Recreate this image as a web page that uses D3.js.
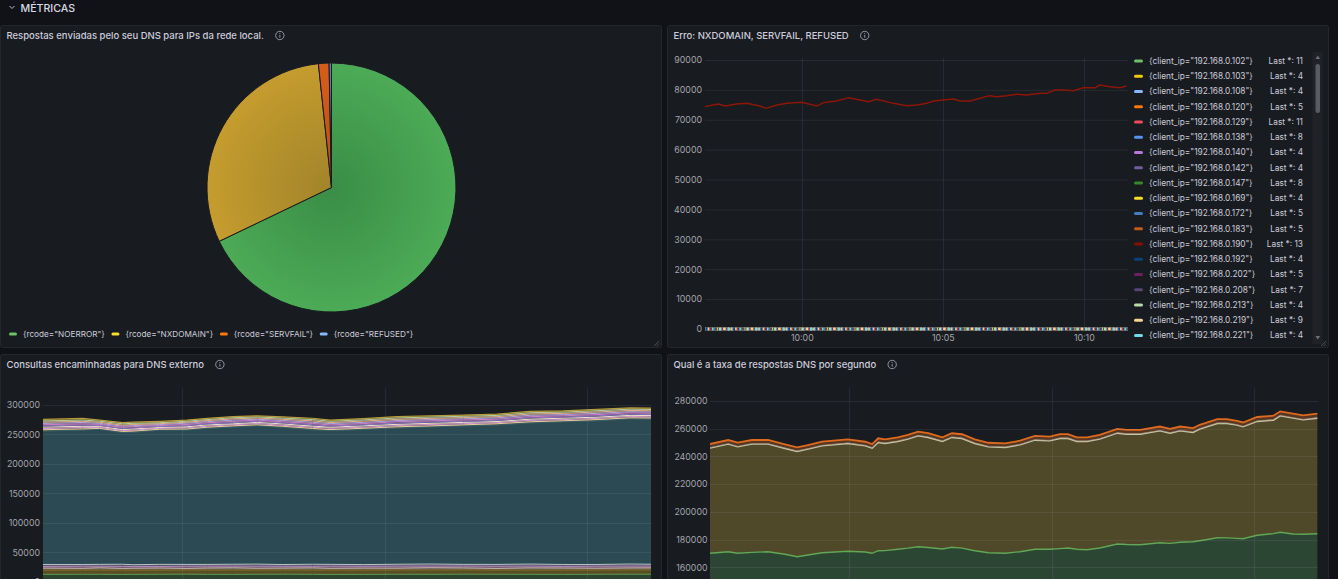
<!DOCTYPE html>
<html><head><meta charset="utf-8">
<script src="https://cdn.jsdelivr.net/npm/d3@7"></script>
<style>
html,body{margin:0;padding:0;background:#111217;overflow:hidden}
svg{display:block;font-family:Inter,"Noto Sans",sans-serif}
</style></head><body>
<svg id="c" width="1338" height="579"></svg>
<script>
// ---------------- DATA ----------------
const sectionTitle = "MÉTRICAS";
const panelTitles = [
  "Respostas enviadas pelo seu DNS para IPs da rede local.",
  "Erro: NXDOMAIN, SERVFAIL, REFUSED",
  "Consultas encaminhadas para DNS externo",
  "Qual é a taxa de respostas DNS por segundo"
];
const startTime = "09:56:34";
const rangeSeconds = 900;

// Pie
const pieLabels = ['{rcode="NOERROR"}','{rcode="NXDOMAIN"}','{rcode="SERVFAIL"}','{rcode="REFUSED"}'];
const pieValues = [67.89, 30.43, 1.37, 0.31];
const pieColors = ['#73BF69','#FADE2A','#FF780A','#8AB8FF'];

// Error panel
const errIPs = ["192.168.0.102","192.168.0.103","192.168.0.108","192.168.0.120","192.168.0.129","192.168.0.138","192.168.0.140","192.168.0.142","192.168.0.147","192.168.0.169","192.168.0.172","192.168.0.183","192.168.0.190","192.168.0.192","192.168.0.202","192.168.0.208","192.168.0.213","192.168.0.219","192.168.0.221"];
const errColors = ['#73BF69','#F2CC0C','#8AB8FF','#FF780A','#F2495C','#5794F2','#B877D9','#705DA0','#37872D','#FADE2A','#447EBC','#C15C17','#890F02','#0A437C','#6D1F62','#584477','#B7DBAB','#F4D598','#70DBED'];
const errLast = [11,4,4,5,11,8,4,4,8,4,5,5,13,4,5,7,4,9,4];
const errYTicks = [0,10000,20000,30000,40000,50000,60000,70000,80000,90000];
// big series (192.168.0.190)
const errBigTimes = [0,28,43,67,89,117,130,153,174,206,238,252,280,305,330,348,365,401,429,451,472,486,507,529,543,564,585,606,620,642,663,684,713,727,745,763,784,805,830,840,862,883,897];
const errBigValues = [74380,75280,74610,75280,75510,74610,73840,74950,75510,75850,74610,75730,76280,77390,76620,76050,76850,75510,74710,74950,75510,76280,76620,76950,76280,76280,77190,78060,77720,78060,78530,78290,78860,78860,79960,79960,79730,80740,80740,81640,81070,80740,81300];
// small series (all other IPs)
const errSmallTimes = [0,100,200,300,400,500,600,700,800,900];
const errSmallValues = [
  [9,12,10,11,13,10,12,11,10,11],
  [3,5,4,4,6,3,5,4,3,4],
  [5,4,3,5,4,6,4,3,5,4],
  [4,6,5,4,5,6,4,5,6,5],
  [10,12,11,9,12,13,10,11,12,11],
  [7,9,8,6,8,9,7,8,9,8],
  [3,4,5,4,3,5,4,4,3,4],
  [5,3,4,4,5,3,4,5,4,4],
  [7,8,9,7,8,6,9,8,7,8],
  [4,3,5,4,4,5,3,4,5,4],
  [6,5,4,5,6,4,5,5,6,5],
  [5,6,4,5,5,6,4,5,4,5],
  null,
  [3,4,5,4,3,4,5,4,3,4],
  [4,5,6,5,4,5,6,5,4,5],
  [6,7,8,7,6,8,7,6,8,7],
  [5,4,3,4,5,4,3,4,5,4],
  [8,9,10,9,8,10,9,8,10,9],
  [4,5,3,4,4,5,3,4,5,4]
];

// Forwarded queries panel (stacked)
const fwdTimes = [0,59,84,118,133,173,213,243,281,317,355,399,425,474,524,573,622,672,721,770,820,869,900];
const fwdYTicks = [0,50000,100000,150000,200000,250000,300000];
const fwdBase1 = [12600,12800,12700,12500,12600,12800,12900,12700,12600,12800,12900,12700,12500,12600,12800,12700,12900,12800,12700,12600,12800,12900,12800];
const fwdBase2 = [7300,7200,7400,7500,7300,7100,7200,7400,7500,7300,7200,7400,7600,7400,7300,7500,7400,7200,7400,7500,7300,7400,7500];
const fwdLow1 = [3400,3000,3600,2900,3200,3500,2800,3300,3600,3000,3200,3500,2900,3300,3100,3600,3200,2900,3500,3300,3000,3200,3300];
const fwdLow2 = [2900,3500,2800,3400,3100,2800,3500,3200,2900,3400,3100,2800,3500,3100,3400,2900,3200,3500,3100,2800,3400,3200,3100];
const fwdLow3 = [3200,2900,3100,3500,2800,3400,3100,2900,3200,3500,2900,3400,3100,2800,3200,3500,2900,3100,3400,3200,2900,3500,3100];
const fwdMain = [226250,227950,229080,223400,224550,227950,227950,230830,232520,234730,232520,227950,226800,229080,230830,232520,234730,236420,239300,242000,243700,246100,246100];
const fwdHigh = [
  [2400,2100,1600,1900,2200,1300,1800,2000,2300,1700,2100,2500,1900,2200,2400,1800,2000,2300,2100,1900,2200,2000,2100],
  [1800,2500,1400,1700,1500,1600,2100,1700,1800,2200,1600,2100,2300,1700,2000,2400,1900,1800,2400,2000,1900,2300,1800],
  [2600,1900,2000,1500,2100,1400,1700,2200,1600,1900,2300,1800,1700,2400,2100,2000,2200,1900,2000,2300,2100,1800,2200],
  [1900,2300,1500,2200,1700,1800,2000,1600,2100,1700,1900,2400,2000,1800,2200,2300,1800,2100,2200,1900,2400,2100,2000],
  [2200,1800,1900,1600,2300,1500,1900,2100,2000,2000,1800,2200,1900,2100,2300,1900,2300,2000,2100,2200,2000,2300,1900],
  [2100,2400,1700,2000,1600,1700,2200,1800,2200,1600,2200,2000,2200,2000,1900,2200,2000,2200,2300,2000,2100,1900,2200],
  [2300,1900,1800,1700,2000,1500,1600,1900,2100,2100,2000,2300,1800,2200,2100,2000,2100,2000,2200,2100,2300,2000,2100],
  [2000,2200,1900,2300,1900,1600,1800,1700,2000,1800,2100,2200,2300,2000,2400,2200,2200,2100,2200,2200,2200,2200,2200],
  [2500,2700,2000,2100,2100,2300,1900,2000,1700,1900,2000,2300,2000,2300,2300,2200,2100,2300,2200,2100,2200,2100,2200]
];

// Response rate panel (stacked)
const rateTimes = [0,27,41,62,86,111,129,145,166,204,230,240,249,259,278,293,308,323,344,358,373,392,412,437,459,481,503,518,530,543,558,577,603,617,637,666,681,696,715,725,751,765,780,789,810,834,844,863,878,899];
const rateYTicks = [160000,180000,200000,220000,240000,260000,280000];
const rateNoerror = [170100,171260,170100,170800,171260,169400,167650,168870,170530,171540,171000,170100,171980,172000,172990,173800,174860,174300,173200,174430,173800,171980,170530,170100,171260,173000,172990,173500,173930,173000,172700,173930,176810,176500,176310,177750,177300,178040,178400,179190,181350,181200,180900,180630,183090,184300,185250,184020,183800,184240];
const rateNxdomain = [75860,77590,76800,78050,77590,76340,75930,76370,77090,77810,76620,75860,78090,77350,77800,78650,79970,79380,77590,79250,79160,77370,76370,76360,77080,78730,78260,79460,79030,77790,78090,78520,79970,79560,79750,80690,79480,80400,78890,80480,82430,82580,81650,80700,82140,81850,84010,83580,82580,83360];
const rateRefused = [400,420,390,410,400,380,400,410,420,400,390,400,410,420,400,410,430,420,400,410,420,400,390,400,410,420,410,420,430,410,400,410,430,420,420,430,420,430,420,430,440,440,430,430,440,440,450,440,440,440];
const rateServfail = [2600,2580,2620,2590,2610,2570,2550,2580,2600,2620,2590,2570,2630,2610,2640,2660,2690,2670,2620,2650,2640,2610,2580,2570,2600,2640,2630,2650,2660,2620,2630,2650,2700,2690,2690,2720,2700,2720,2710,2730,2770,2770,2750,2740,2780,2790,2820,2800,2790,2800];

// ---------------- RENDER ----------------
const svg = d3.select('#c');
const T0 = d3.timeParse('%Y-%m-%d %H:%M:%S')('2024-01-01 ' + startTime);
const toDate = s => new Date(T0.getTime() + s * 1000);
const TEND = toDate(rangeSeconds);
const TXT = '#ccccdc', AX = '#a4a5ad', GRID = 'rgba(204,204,220,0.09)';

// section header
svg.append('path').attr('d','M9.5,6 L12,8.5 L14.5,6').attr('fill','none').attr('stroke','#b8b9c2').attr('stroke-width',1);
svg.append('text').attr('x',20.5).attr('y',11.5).attr('fill','#d8d9e3').attr('font-size',10.6).attr('font-weight',500).text(sectionTitle);

function panel(x,y,w,h,title){
  svg.append('rect').attr('x',x+0.5).attr('y',y+0.5).attr('width',w).attr('height',h).attr('rx',2)
    .attr('fill','#181b1f').attr('stroke','#25272c');
  const t = svg.append('text').attr('x',x+6.5).attr('y',y+14).attr('fill',TXT)
    .attr('font-size',9.5).attr('font-weight',500).text(title);
  const cx = x + 6.5 + t.node().getComputedTextLength() + 16, cy = y + 10.5;
  const g = svg.append('g').attr('transform',`translate(${cx},${cy})`);
  g.append('circle').attr('r',4.2).attr('fill','none').attr('stroke','#a0a1aa').attr('stroke-width',0.9);
  g.append('line').attr('x1',0).attr('x2',0).attr('y1',-0.6).attr('y2',2.2).attr('stroke','#a0a1aa').attr('stroke-width',0.9);
  g.append('circle').attr('cx',0).attr('cy',-2).attr('r',0.55).attr('fill','#a0a1aa');
}
function resizeHandle(x,y){
  svg.append('path').attr('d',`M${x-5},${y} L${x},${y-5} M${x-2.5},${y} L${x},${y-2.5}`)
    .attr('stroke','#55575e').attr('stroke-width',0.8);
}
panel(0,25,661,322,panelTitles[0]);
panel(667,25,661,322,panelTitles[1]);
panel(0,354,661,240,panelTitles[2]);
panel(667,354,661,240,panelTitles[3]);
resizeHandle(659,346); resizeHandle(1326,346);

// ---- Pie ----
const defs = svg.append('defs');
const pieGrad = [['#3a8d47','#4cab56'],['#a1842a','#c59c2e'],['#b8501a','#d95c1b'],['#3f5f8c','#5d83b6']];
pieGrad.forEach((g,i)=>{
  const rg = defs.append('radialGradient').attr('id','pg'+i).attr('gradientUnits','userSpaceOnUse')
    .attr('cx',0).attr('cy',0).attr('r',124.5);
  rg.append('stop').attr('offset','0%').attr('stop-color',g[0]);
  rg.append('stop').attr('offset','100%').attr('stop-color',g[1]);
});
const pie = d3.pie().sort(null).value(d=>d)(pieValues);
const arc = d3.arc().innerRadius(0).outerRadius(124.5);
const pg = svg.append('g').attr('transform','translate(331.5,187.5)');
pg.selectAll('path').data(pie).join('path').attr('d',arc)
  .attr('fill',(d,i)=>`url(#pg${i})`).attr('stroke','#181b1f').attr('stroke-width',1);
// pie legend
let lx = 9;
pieLabels.forEach((lab,i)=>{
  svg.append('rect').attr('x',lx).attr('y',332.5).attr('width',8).attr('height',3).attr('rx',1.5).attr('fill',pieColors[i]);
  const t = svg.append('text').attr('x',lx+14).attr('y',337).attr('fill',TXT).attr('font-size',8.2).text(lab);
  lx = lx + 14 + t.node().getComputedTextLength() + 6.7;
});

// ---- Error panel ----
const x2 = d3.scaleTime().domain([T0,TEND]).range([705,1128]);
const y2 = d3.scaleLinear().domain([0,90000]).range([329,60]);
const g2 = svg.append('g');
g2.selectAll('.hg').data(errYTicks).join('line').attr('x1',705).attr('x2',1128)
  .attr('y1',d=>y2(d)+0.5).attr('y2',d=>y2(d)+0.5).attr('stroke',GRID);
const vt2 = x2.ticks(d3.timeMinute.every(5));
g2.selectAll('.vg').data(vt2).join('line').attr('x1',d=>Math.round(x2(d))+0.5).attr('x2',d=>Math.round(x2(d))+0.5)
  .attr('y1',58).attr('y2',329).attr('stroke',GRID);
const ax2y = svg.append('g').attr('transform','translate(705,0)')
  .call(d3.axisLeft(y2).tickValues(errYTicks).tickFormat(d3.format('d')).tickSize(0).tickPadding(3));
const ax2x = svg.append('g').attr('transform','translate(0,329)')
  .call(d3.axisBottom(x2).ticks(d3.timeMinute.every(5)).tickFormat(d3.timeFormat('%H:%M')).tickSize(0).tickPadding(6));
[ax2y,ax2x].forEach(a=>{a.select('.domain').remove(); a.selectAll('text').attr('fill',AX).attr('font-size',8.8).attr('font-family','Inter');});
// small series
const line2s = d3.line().x((d,i)=>x2(toDate(errSmallTimes[i]))).y(d=>y2(d));
// base continuous series underneath
g2.append('path').attr('d',line2s(errSmallValues[6])).attr('fill','none').attr('stroke','#8f7fa6').attr('stroke-width',2);
errSmallValues.forEach((vals,k)=>{
  if(!vals) return;
  g2.append('path').attr('d',line2s(vals)).attr('fill','none').attr('stroke',errColors[k])
    .attr('stroke-width',2.8).attr('stroke-dasharray','2.5 9.5 1.5 14').attr('stroke-dashoffset',-k*4.3);
});
const line2 = d3.line().x((d,i)=>x2(toDate(errBigTimes[i]))).y(d=>y2(d));
g2.append('path').attr('d',line2(errBigValues)).attr('fill','none').attr('stroke','#8e1608').attr('stroke-width',1.4);
// legend
errIPs.forEach((ip,i)=>{
  const cy = 61 + i*15.25;
  svg.append('rect').attr('x',1134).attr('y',cy-1.5).attr('width',9).attr('height',3).attr('rx',1.5).attr('fill',errColors[i]);
  svg.append('text').attr('x',1149).attr('y',cy).attr('dy','0.35em').attr('fill',TXT).attr('font-size',8.3)
    .text(`{client_ip="${ip}"}`);
  svg.append('text').attr('x',1303).attr('y',cy).attr('dy','0.35em').attr('text-anchor','end').attr('fill',TXT).attr('font-size',8.3)
    .text(`Last *: ${errLast[i]}`);
});
// scrollbar
svg.append('rect').attr('x',1312.5).attr('y',52).attr('width',10).attr('height',292).attr('fill','#202227');
svg.append('rect').attr('x',1315.5).attr('y',64).attr('width',4.5).attr('height',49).attr('rx',2.2).attr('fill','#595b62');
svg.append('path').attr('d','M1315.5,59 L1317.8,55.5 L1320.1,59 Z').attr('fill','#6e7078');
svg.append('path').attr('d','M1315.5,336 L1317.8,339.5 L1320.1,336 Z').attr('fill','#6e7078');

// ---- Forwarded (stacked) ----
const x3 = d3.scaleTime().domain([T0,TEND]).range([43,651]);
const y3 = d3.scaleLinear().domain([0,300000]).range([581.8,405]);
defs.append('clipPath').attr('id','clip3').append('rect').attr('x',43).attr('y',388).attr('width',608).attr('height',200);
const fwdKeys = ['b1','b2','l1','l2','l3','main','h0','h1','h2','h3','h4','h5','h6','h7','h8'];
const fwdRows = fwdTimes.map((t,i)=>{
  const r = {t:toDate(t), b1:fwdBase1[i], b2:fwdBase2[i], l1:fwdLow1[i], l2:fwdLow2[i], l3:fwdLow3[i], main:fwdMain[i]};
  fwdHigh.forEach((s,k)=>r['h'+k]=s[i]);
  return r;
});
const fwdStyle = {
  b1:['#2b4530','#5f9e50',1], b2:['#5a4e24','#8a7426',1],
  l1:['rgba(249,226,210,0.25)','#d9c8bc',1], l2:['rgba(229,168,226,0.3)','#c98fce',1], l3:['rgba(186,223,244,0.25)','#b8c4cc',1],
  main:['#2b4a53','#35606a',1],
  h0:['rgba(244,213,152,0.35)','#e7cf9c',1], h1:['rgba(229,168,226,0.35)','#d99ad6',1], h2:['rgba(252,234,202,0.35)','#efe3cc',1],
  h3:['rgba(128,110,183,0.5)','#8a78c2',1], h4:['rgba(214,131,206,0.4)','#cf82c8',1], h5:['rgba(174,162,224,0.4)','#b0a6de',1],
  h6:['rgba(249,186,143,0.35)','#e8b08a',1], h7:['rgba(183,219,171,0.35)','#b2cfa7',1], h8:['rgba(204,163,0,0.45)','#b59a3e',1.2]
};
const st3 = d3.stack().keys(fwdKeys)(fwdRows);
const g3 = svg.append('g').attr('clip-path','url(#clip3)');
const area3 = d3.area().x(d=>x3(d.data.t)).y0(d=>y3(d[0])).y1(d=>y3(d[1]));
const top3 = d3.line().x(d=>x3(d.data.t)).y(d=>y3(d[1]));
g3.selectAll('.a').data(st3).join('path').attr('d',area3).attr('fill',d=>fwdStyle[d.key][0]);
g3.selectAll('.l').data(st3).join('path').attr('d',top3).attr('fill','none')
  .attr('stroke',d=>fwdStyle[d.key][1]).attr('stroke-width',d=>fwdStyle[d.key][2]);
const gg3 = svg.append('g');
gg3.selectAll('line.h').data(fwdYTicks).join('line').attr('x1',43).attr('x2',651)
  .attr('y1',d=>Math.round(y3(d))+0.5).attr('y2',d=>Math.round(y3(d))+0.5).attr('stroke',GRID);
gg3.selectAll('line.v').data(x3.ticks(d3.timeMinute.every(5))).join('line')
  .attr('x1',d=>Math.round(x3(d))+0.5).attr('x2',d=>Math.round(x3(d))+0.5).attr('y1',388).attr('y2',590).attr('stroke',GRID);
const ax3y = svg.append('g').attr('transform','translate(43,0)')
  .call(d3.axisLeft(y3).tickValues(fwdYTicks).tickFormat(d3.format('d')).tickSize(0).tickPadding(3));
ax3y.select('.domain').remove(); ax3y.selectAll('text').attr('fill',AX).attr('font-size',8.8).attr('font-family','Inter');

// ---- Rate (stacked) ----
const x4 = d3.scaleTime().domain([T0,TEND]).range([710,1318]);
const y4 = d3.scaleLinear().domain([160000,280000]).range([567.3,401]);
defs.append('clipPath').attr('id','clip4').append('rect').attr('x',710).attr('y',388).attr('width',608).attr('height',200);
const rateKeys = ['noerror','nxdomain','refused','servfail'];
const rateRows = rateTimes.map((t,i)=>({t:toDate(t), noerror:rateNoerror[i], nxdomain:rateNxdomain[i], refused:rateRefused[i], servfail:rateServfail[i]}));
const rateStyle = {
  noerror:['#2c4634','#62a656',1.4], nxdomain:['#4f4829','#cdc7aa',1.4],
  refused:['#4a3a2a','#9a8d80',0.6], servfail:['#583620','#de6a1f',1.8]
};
const st4 = d3.stack().keys(rateKeys)(rateRows);
const g4 = svg.append('g').attr('clip-path','url(#clip4)');
const area4 = d3.area().x(d=>x4(d.data.t)).y0(d=>y4(d[0])).y1(d=>y4(d[1]));
const top4 = d3.line().x(d=>x4(d.data.t)).y(d=>y4(d[1]));
g4.selectAll('.a').data(st4).join('path').attr('d',area4).attr('fill',d=>rateStyle[d.key][0]);
g4.selectAll('.l').data(st4).join('path').attr('d',top4).attr('fill','none')
  .attr('stroke',d=>rateStyle[d.key][1]).attr('stroke-width',d=>rateStyle[d.key][2]);
const gg4 = svg.append('g');
gg4.selectAll('line.h').data(rateYTicks).join('line').attr('x1',710).attr('x2',1318)
  .attr('y1',d=>Math.round(y4(d))+0.5).attr('y2',d=>Math.round(y4(d))+0.5).attr('stroke',GRID);
gg4.selectAll('line.v').data(x4.ticks(d3.timeMinute.every(5))).join('line')
  .attr('x1',d=>Math.round(x4(d))+0.5).attr('x2',d=>Math.round(x4(d))+0.5).attr('y1',388).attr('y2',590).attr('stroke',GRID);
const ax4y = svg.append('g').attr('transform','translate(710,0)')
  .call(d3.axisLeft(y4).tickValues(rateYTicks).tickFormat(d3.format('d')).tickSize(0).tickPadding(2.5));
ax4y.select('.domain').remove(); ax4y.selectAll('text').attr('fill',AX).attr('font-size',8.8).attr('font-family','Inter');
</script>
</body></html>
